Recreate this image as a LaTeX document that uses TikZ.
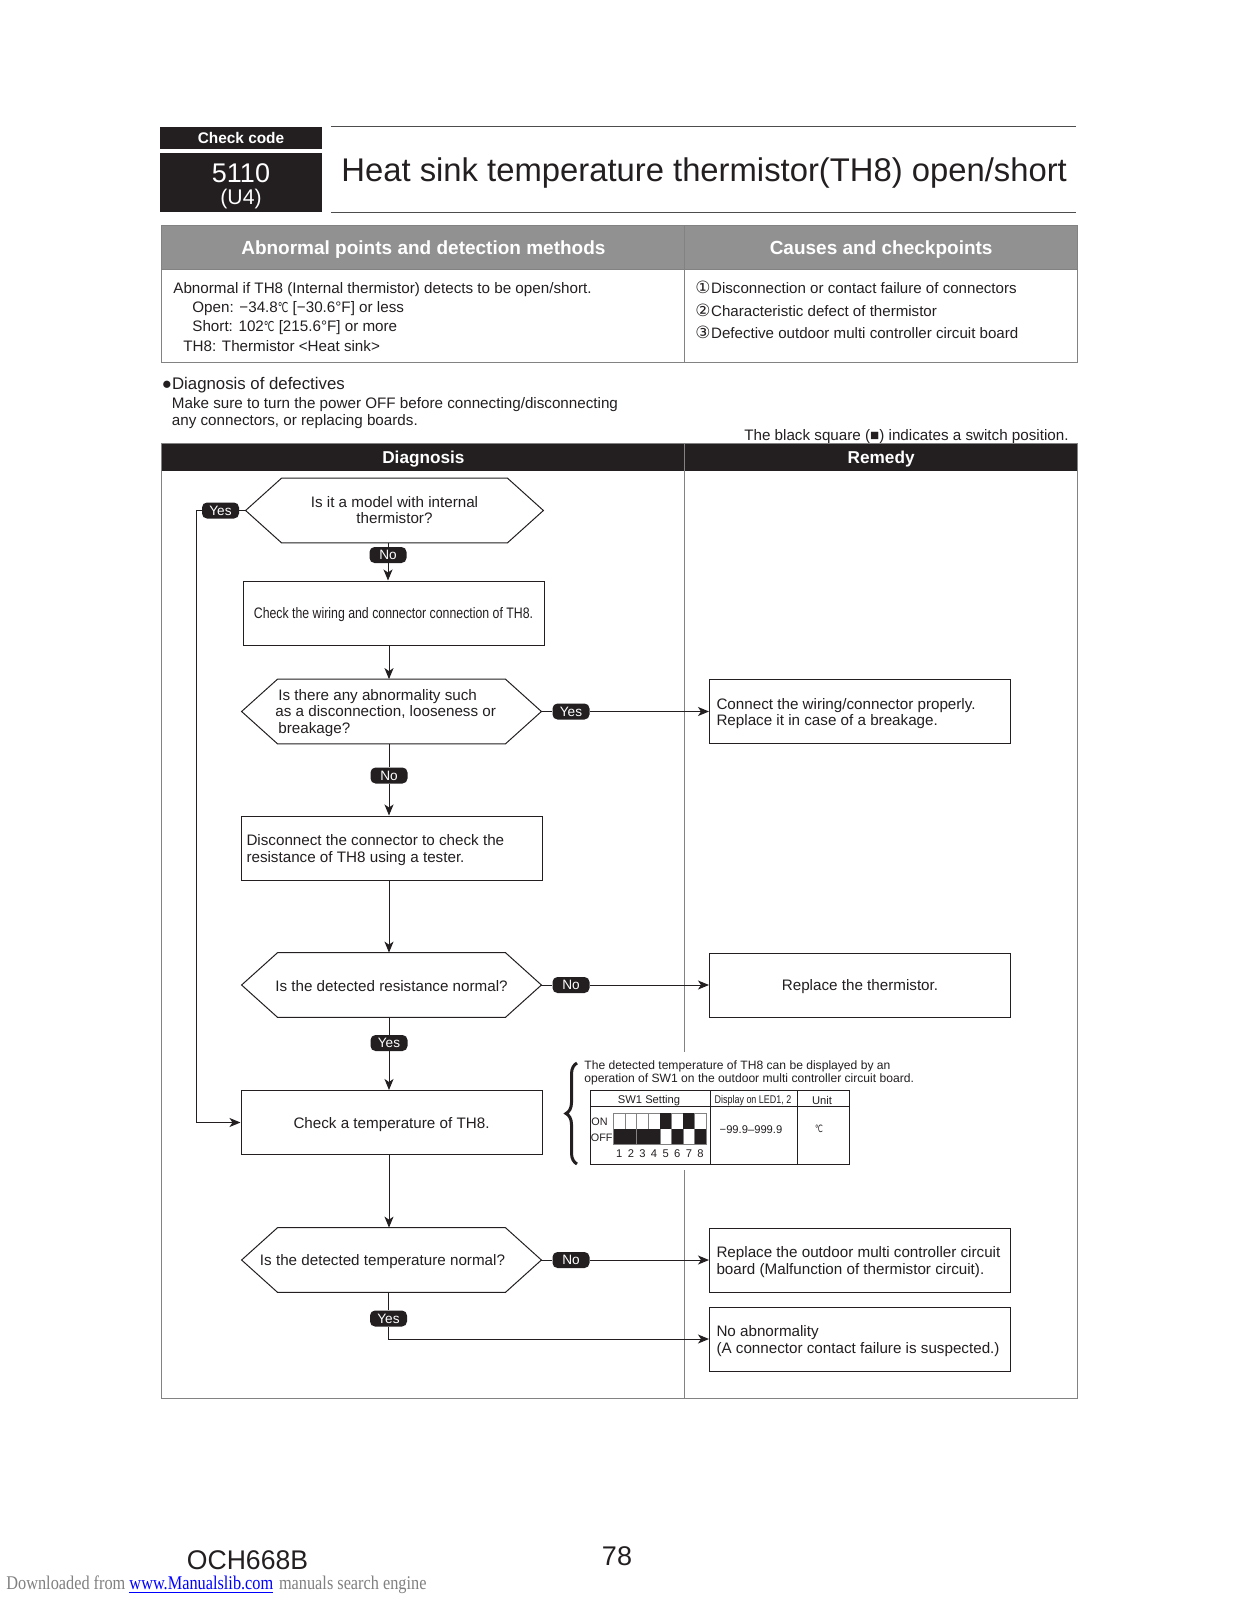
\documentclass[tikz,border=0pt]{standalone}
\usepackage{fontspec}
\setmainfont{Liberation Sans}
\newfontfamily\symfont{DejaVu Sans}
\newfontfamily\serfont{Liberation Serif}
\usetikzlibrary{arrows.meta,positioning,calc,decorations.pathreplacing}
\definecolor{ink}{RGB}{35,31,32}
\definecolor{headgray}{RGB}{145,145,145}
\definecolor{framegray}{RGB}{130,130,130}
\newcommand{\dgc}{{\symfont\scalebox{.62}[.9]{℃}}}
\newcommand{\circnum}[1]{{\symfont\scalebox{1.12}{#1}}\hspace{.3pt}}
\tikzset{
    blackbar/.style={fill=ink,draw=none,text=white,inner sep=0pt},
    graybar/.style={fill=headgray,draw=none,text=white,inner sep=0pt,font=\fontsize{9.5}{11}\selectfont\bfseries,execute at begin node={\rule{0pt}{9pt}}},
    headbar/.style={blackbar,font=\fontsize{8.6}{10}\selectfont\bfseries,execute at begin node={\rule{0pt}{8pt}}},
    txt/.style={inner sep=0pt,text=ink,font=\fontsize{7.6}{9}\selectfont,align=flush left},
    actbox/.style={draw=ink,line width=.5pt,fill=white,minimum width=150.5pt,minimum height=32pt,inner sep=3pt,text=ink,font=\fontsize{7.6}{8.2}\selectfont,align=center,execute at begin node={\rule{0pt}{7.5pt}}},
    actleft/.style={actbox,text width=143.5pt,inner xsep=3.5pt,align=flush left},
    hexbox/.style={draw=none,minimum width=149.5pt,minimum height=32pt,inner sep=0pt,text=ink,font=\fontsize{7.6}{8}\selectfont,align=center,execute at begin node={\rule{0pt}{6.5pt}},
        append after command={\pgfextra{\draw[draw=ink,line width=.5pt,line join=miter] (\tikzlastnode.west) -- ([xshift=18pt]\tikzlastnode.north west) -- ([xshift=-18pt]\tikzlastnode.north east) -- (\tikzlastnode.east) -- ([xshift=-18pt]\tikzlastnode.south east) -- ([xshift=18pt]\tikzlastnode.south west) -- cycle;}}},
    pill/.style={fill=ink,rounded corners=2.5pt,text=white,minimum width=18.5pt,minimum height=8pt,inner sep=0pt,font=\fontsize{6.8}{8}\selectfont},
    flow/.style={draw=ink,line width=.5pt,-{Stealth[length=5.5pt,width=4.5pt,inset=1.5pt]}},
    link/.style={draw=ink,line width=.5pt},
    frame/.style={draw=framegray,line width=.5pt},
    sw/.style={fill=ink,draw=none},
    cell/.style={draw=framegray,line width=.4pt}
}
\begin{document}
\begin{tikzpicture}[x=.5pt,y=-.5pt]
    \useasboundingbox (0,0) rectangle (1237,1600);
    % title block
    \node[blackbar,minimum width=81pt,minimum height=11pt,font=\fontsize{7.7}{9}\selectfont\bfseries] (checkcode) at (241,138) {Check code};
    \node[blackbar,minimum width=81pt,minimum height=29.5pt,align=center,font=\fontsize{13.5}{12}\selectfont] (codebox) at (241,182.5) {};
    \node[txt,text=white,font=\fontsize{13.5}{14}\selectfont] (codenum) at (241,173) {5110};
    \node[txt,text=white,font=\fontsize{10.6}{12}\selectfont] (codeold) at (241,199) {(U4)};
    \draw[link,draw=ink!80] (331,127) -- (1076,127);
    \draw[link,draw=ink!80] (331,212) -- (1076,212);
    \node[txt,anchor=west,font=\fontsize{16.4}{20}\selectfont] (title) at (341,173.5) {Heat sink temperature thermistor(TH8) open/short};
    % upper table
    \node[graybar,anchor=north west,minimum width=261.5pt,minimum height=22pt] (headl) at (161.5,225.5) {Abnormal points and detection methods};
    \node[graybar,anchor=north west,minimum width=196.25pt,minimum height=22pt] (headr) at (684.5,225.5) {Causes and checkpoints};
    \draw[frame] (161.5,225.5) rectangle (1077,362.5);
    \draw[frame] (161.5,269) -- (1077,269);
    \draw[frame] (684.5,225.5) -- (684.5,362.5);
    \node[txt,anchor=north west,font=\fontsize{7.6}{9.6}\selectfont] (detect) at (173,282) {Abnormal if TH8 (Internal thermistor) detects to be open/short.\\
        \hspace*{9.5pt}Open: −34.8\dgc{} [−30.6°F] or less\\
        \hspace*{9.5pt}Short: 102\dgc{} [215.6°F] or more\\
        \hspace*{5pt}TH8: Thermistor <Heat sink>};
    \node[txt,anchor=north west,font=\fontsize{7.55}{11.2}\selectfont] (causes) at (695,281) {\circnum{①}Disconnection or contact failure of connectors\\
        \circnum{②}Characteristic defect of thermistor\\
        \circnum{③}Defective outdoor multi controller circuit board};
    % diagnosis notes
    \node[txt,anchor=west,font=\fontsize{8.4}{10}\selectfont] (diagtitle) at (161.5,385) {●Diagnosis of defectives};
    \node[txt,anchor=north west,font=\fontsize{7.6}{8.6}\selectfont] (diagnote) at (171.5,397) {Make sure to turn the power OFF before connecting/disconnecting\\any connectors, or replacing boards.};
    \node[txt,anchor=east] (squarenote) at (1069,437) {The black square (■) indicates a switch position.};
    % diagram frame
    \node[headbar,anchor=north west,minimum width=261.5pt,minimum height=13.75pt] (headdiag) at (161.5,443.5) {Diagnosis};
    \node[headbar,anchor=north west,minimum width=196.25pt,minimum height=13.75pt] (headrem) at (684.5,443.5) {Remedy};
    \draw[frame] (161.5,443.5) rectangle (1077,1398.5);
    \draw[frame] (684.5,443.5) -- (684.5,1052);
    \draw[frame] (684.5,1170) -- (684.5,1398.5);
    % flow nodes
    \node[hexbox,minimum width=148.5pt] (quesa) at (394.5,510.5) {Is it a model with internal\\thermistor?};
    \node[actbox] (checka) at (393.5,613) {\scalebox{.81}[1]{Check the wiring and connector connection of TH8.}};
    \node[hexbox] (quesb) at (391.5,711.5) {};
    \node[txt,anchor=west,font=\fontsize{7.6}{8.3}\selectfont] (quesbtext) at (275,713) {\hspace*{1.5pt}Is there any abnormality such\\as a disconnection, looseness or\\\hspace*{1.5pt}breakage?};
    \node[actleft,text width=145pt,inner xsep=2.75pt] (checkb) at (391.5,848) {Disconnect the connector to check the\\resistance of TH8 using a tester.};
    \node[hexbox] (quesc) at (391.5,985) {Is the detected resistance normal?};
    \node[actbox] (checkc) at (391.5,1122.5) {Check a temperature of TH8.};
    \node[hexbox] (quesd) at (391.5,1260) {};
    \node[txt,anchor=center] (quesdtext) at (382.5,1261.5) {Is the detected temperature normal?};
    \node[actleft] (rema) at (860,711.5) {Connect the wiring/connector properly.\\Replace it in case of a breakage.};
    \node[actbox] (remb) at (860,985) {Replace the thermistor.};
    \node[actleft] (remc) at (860,1260) {Replace the outdoor multi controller circuit\\board (Malfunction of thermistor circuit).};
    \node[actleft] (remd) at (860,1339) {No abnormality\\(A connector contact failure is suspected.)};
    % yes/no marks
    \node[pill] (yesa) at (220.5,510.5) {Yes};
    \node[pill] (noa) at (388,555) {No};
    \node[pill] (yesb) at (571,711.5) {Yes};
    \node[pill] (nob) at (389,775.5) {No};
    \node[pill] (noc) at (571,985) {No};
    \node[pill] (yesc) at (389,1043) {Yes};
    \node[pill] (nod) at (571,1260) {No};
    \node[pill] (yesd) at (388.5,1318.5) {Yes};
    \coordinate (yesturn) at (196,510.5);
    % connectors
    \draw[link] (quesa.west) -- (yesa.east);
    \draw[flow] (yesa.west) -- (yesturn) |- (checkc.west);
    \draw[link] (quesa.south -| noa.center) -- (noa.north);
    \draw[flow] (noa.south) -- (checka.north -| noa.center);
    \draw[flow] (checka.south -| nob.center) -- (quesb.north -| nob.center);
    \draw[link] (quesb.south -| nob.center) -- (nob.north);
    \draw[flow] (nob.south) -- (checkb.north -| nob.center);
    \draw[link] (quesb.east) -- (yesb.west);
    \draw[flow] (yesb.east) -- (rema.west);
    \draw[flow] (checkb.south -| nob.center) -- (quesc.north -| nob.center);
    \draw[link] (quesc.east) -- (noc.west);
    \draw[flow] (noc.east) -- (remb.west);
    \draw[link] (quesc.south -| yesc.center) -- (yesc.north);
    \draw[flow] (yesc.south) -- (checkc.north -| yesc.center);
    \draw[flow] (checkc.south -| yesc.center) -- (quesd.north -| yesc.center);
    \draw[link] (quesd.east) -- (nod.west);
    \draw[flow] (nod.east) -- (remc.west);
    \draw[link] (quesd.south -| yesd.center) -- (yesd.north);
    \draw[flow] (yesd.south) |- (remd.west);
    % SW1 note
    \draw[draw=ink,line width=1.5pt,decorate,decoration={brace,amplitude=5.5pt,mirror}] (577,1063) -- (577,1164);
    \node[txt,anchor=north west,font=\fontsize{6.05}{6.6}\selectfont] (swnote) at (584,1060) {The detected temperature of TH8 can be displayed by an\\operation of SW1 on the outdoor multi controller circuit board.};
    \draw[draw=ink,line width=.5pt] (590,1090) rectangle (849,1164);
    \draw[draw=ink,line width=.5pt] (590,1106.5) -- (849,1106.5);
    \draw[draw=ink,line width=.5pt] (710,1090) -- (710,1164) (797,1090) -- (797,1164);
    \node[txt,font=\fontsize{5.6}{7}\selectfont] (swhead) at (649,1101) {SW1 Setting};
    \node[txt,font=\fontsize{5.6}{7}\selectfont] (ledhead) at (753,1101) {\scalebox{.8}[1]{Display on LED1, 2}};
    \node[txt,font=\fontsize{5.6}{7}\selectfont] (unithead) at (822,1100) {Unit};
    \node[txt,font=\fontsize{5.6}{7}\selectfont] (range) at (751,1130) {−99.9–999.9};
    \node[txt,font=\fontsize{5.6}{7}\selectfont] (unitval) at (819,1129) {\dgc};
    \node[txt,anchor=west,font=\fontsize{5.4}{7}\selectfont] (onlab) at (591,1122) {ON};
    \node[txt,anchor=west,font=\fontsize{5.4}{7}\selectfont] (offlab) at (590.5,1138) {OFF};
    \foreach \i/\up in {1/0,2/0,3/0,4/0,5/1,6/0,7/1,8/0} {
        \draw[cell] ({613.5+(\i-1)*11.6},1113) rectangle ++(11.6,31);
        \ifnum\up=1
            \fill[sw] ({613.5+(\i-1)*11.6},1113) rectangle ++(11.6,15.5);
        \else
            \fill[sw] ({613.5+(\i-1)*11.6},1128.5) rectangle ++(11.6,15.5);
        \fi
        \node[txt,font=\fontsize{5.6}{7}\selectfont] (num\i) at ({619.3+(\i-1)*11.6},1154) {\i};
    }
    % footer
    \node[txt,font=\fontsize{13.5}{16}\selectfont] (model) at (247.5,1560) {\scalebox{.985}[1]{OCH668B}};
    \node[txt,font=\fontsize{13.5}{16}\selectfont] (page) at (617,1556) {78};
    \node[anchor=west,inner sep=0pt,text=gray,font=\serfont\fontsize{9.7}{11}\selectfont] (dlnote) at (6,1585) {\scalebox{.84}[1]{Downloaded from \textcolor{blue}{\underline{www.Manualslib.com}}\hspace{1pt} manuals search engine}};
\end{tikzpicture}
\end{document}
